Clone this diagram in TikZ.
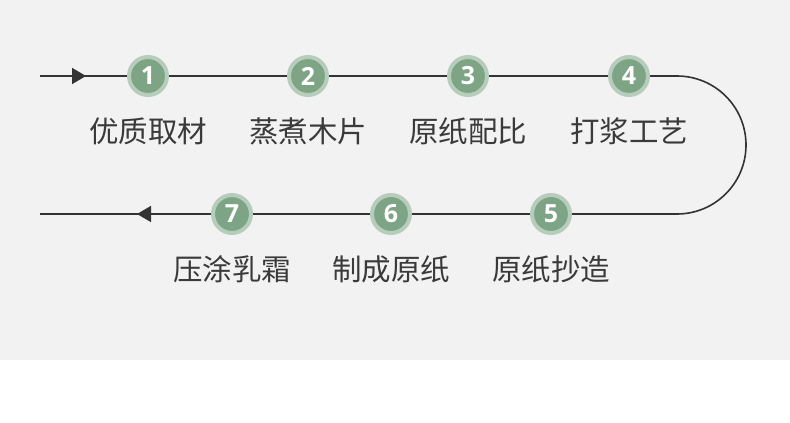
\documentclass[tikz,border=0pt]{standalone}
\usepackage{fontspec}
\newfontfamily\cjk{Noto Sans CJK SC}
\setsansfont{Open Sans}
\usetikzlibrary{arrows.meta}
\definecolor{bg}{HTML}{F2F2F2}
\definecolor{ringc}{HTML}{B7CDBB}
\definecolor{dotc}{HTML}{7EA486}
\definecolor{linec}{HTML}{333333}
\definecolor{txtc}{HTML}{3A3A3A}
\tikzset{
  stepdot/.style={circle, fill=dotc, draw=ringc, line width=4pt, minimum size=38pt, inner sep=0pt,
    text=white, font=\fontsize{25}{25}\selectfont\sffamily\bfseries},
  steplabel/.style={text=txtc, font=\cjk\fontsize{29.5}{29.5}\selectfont, inner sep=0pt},
  pathline/.style={draw=linec, line width=1.6pt},
  tri/.style={-{Triangle[length=14pt,width=16pt]}}
}
\begin{document}
\begin{tikzpicture}[x=1pt,y=-1pt]
\useasboundingbox (0,0) rectangle (790,423);
\fill[white] (0,0) rectangle (790,423);
\fill[bg] (0,0) rectangle (790,360);
% path
\coordinate (s) at (40,76);
\coordinate (am) at (86,76);
\coordinate (tr) at (677,76);
\coordinate (br) at (677,214);
\coordinate (bm) at (137,214);
\coordinate (e) at (40,214);
\draw[pathline] (s) -- (tr) arc[start angle=90, end angle=-90, radius=69pt] -- (e);
\draw[pathline, tri] (s) -- (am);
\draw[pathline, tri] (br) -- (bm);
% steps
\foreach \n/\x/\y/\t in {1/148/76/优质取材, 2/308/76/蒸煮木片, 3/468/76/原纸配比, 4/629/76/打浆工艺,
                         5/551/214/原纸抄造, 6/391/214/制成原纸, 7/232/214/压涂乳霜}{
  \node[stepdot] (d\n) at (\x,\y) {\n};
  \node[steplabel] (l\n) at (\x,\y+55) {\t};
}
\end{tikzpicture}
\end{document}
